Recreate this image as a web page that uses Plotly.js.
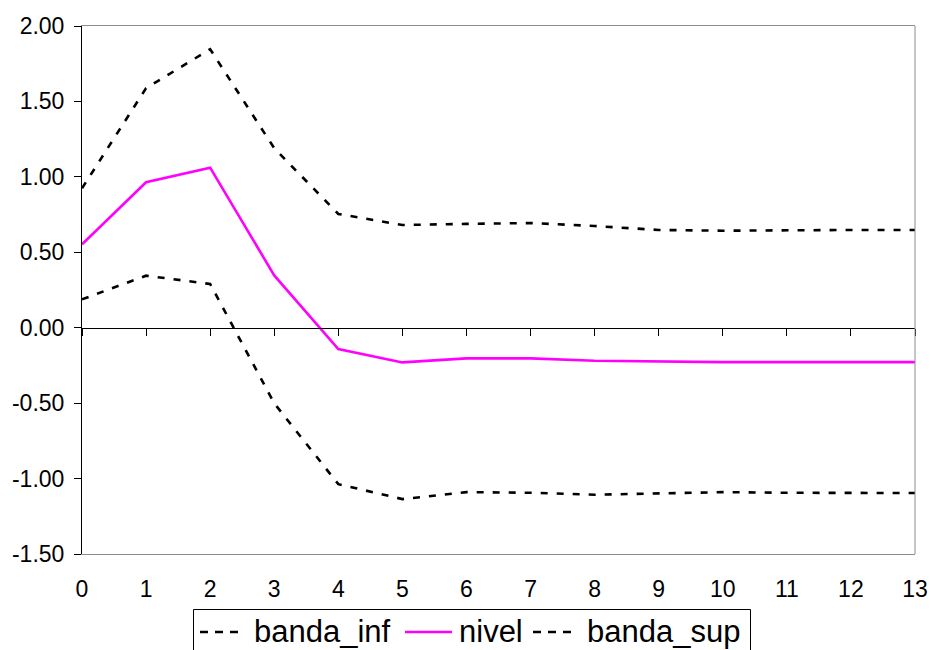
<!DOCTYPE html>
<html>
<head>
<meta charset="utf-8">
<script src="https://cdn.plot.ly/plotly-3.0.1.min.js"></script>
<style>
  html, body { margin: 0; padding: 0; background: #ffffff; }
  #chart { width: 931px; height: 650px; }
</style>
</head>
<body>
<div id="chart"></div>
<script>
// Periods after the shock
const periods = [0, 1, 2, 3, 4, 5, 6, 7, 8, 9, 10, 11, 12, 13];

// Response level and its confidence band
const nivel     = [0.553, 0.964, 1.061, 0.347, -0.141, -0.230, -0.203, -0.203, -0.219, -0.225, -0.228, -0.228, -0.228, -0.228];
const bandaInf  = [0.188, 0.345, 0.290, -0.501, -1.037, -1.136, -1.090, -1.094, -1.107, -1.098, -1.090, -1.094, -1.096, -1.096];
const bandaSup  = [0.924, 1.588, 1.846, 1.190, 0.754, 0.681, 0.688, 0.694, 0.674, 0.648, 0.643, 0.648, 0.648, 0.648];

const yTicks = [-1.5, -1.0, -0.5, 0.0, 0.5, 1.0, 1.5, 2.0];
const yTickLabels = ["-1.50", "-1.00", "-0.50", "0.00", "0.50", "1.00", "1.50", "2.00"];

const seriesNames = ["banda_inf", "nivel", "banda_sup"];

const FONT = "Liberation Sans, Arial, sans-serif";
const W = 931, H = 650;
const M = { l: 82, r: 16, t: 26, b: 96 };
const dashed = { color: "#000000", width: 2.6, dash: "7px,9px" };
const solidPink = { color: "#ff00ff", width: 2.6 };

const traces = [
  { x: periods, y: bandaInf, name: seriesNames[0], mode: "lines", line: dashed },
  { x: periods, y: nivel, name: seriesNames[1], mode: "lines", xaxis: "x2", line: solidPink },
  { x: periods, y: bandaSup, name: seriesNames[2], mode: "lines", line: dashed }
];

// pixel position on the page -> paper coordinates of the plot area
const plotW = W - M.l - M.r, plotH = H - M.t - M.b;
const px = v => (v - M.l) / plotW;
const py = v => (H - M.b - v) / plotH;

// legend strip below the plot: framed box, line samples and labels
const legendY = 632;
const legendItems = [
  { name: seriesNames[0], line: { color: "#000000", width: 2.6, dash: "8px,7px" }, x0: 200, x1: 240, tx: 253 },
  { name: seriesNames[1], line: solidPink, x0: 405, x1: 452, tx: 458 },
  { name: seriesNames[2], line: { color: "#000000", width: 2.6, dash: "8px,7px" }, x0: 533, x1: 572, tx: 586 }
];

const shapes = [
  { type: "line", xref: "paper", yref: "paper", x0: 1, x1: 1, y0: 0, y1: 1,
    line: { color: "#8c8c8c", width: 1 } },
  { type: "rect", xref: "paper", yref: "paper", x0: px(193.5), x1: px(750.5), y0: py(609.5), y1: py(670),
    line: { color: "#000000", width: 1 }, fillcolor: "rgba(0,0,0,0)" }
];
const annotations = [];
legendItems.forEach(it => {
  shapes.push({ type: "line", xref: "paper", yref: "paper",
    x0: px(it.x0), x1: px(it.x1), y0: py(legendY), y1: py(legendY), line: it.line });
  annotations.push({ xref: "paper", yref: "paper", x: px(it.tx), y: py(631),
    xanchor: "left", yanchor: "middle", showarrow: false, text: it.name,
    font: { family: FONT, size: 31, color: "#000000" }, borderpad: 0 });
});

const layout = {
  width: W,
  height: H,
  paper_bgcolor: "#ffffff",
  plot_bgcolor: "#ffffff",
  font: { family: FONT, color: "#000000", size: 23 },
  margin: { l: M.l, r: M.r, t: M.t, b: M.b, pad: 0, autoexpand: false },
  showlegend: false,
  xaxis: {
    range: [0, 13],
    tickvals: periods,
    ticktext: periods.map(String),
    ticks: "",
    showgrid: false,
    zeroline: false,
    showline: true,
    mirror: true,
    linecolor: "#8c8c8c",
    linewidth: 1,
    ticklabelstandoff: 14,
    fixedrange: true
  },
  // category axis drawn where the value axis crosses zero
  xaxis2: {
    overlaying: "x",
    anchor: "free",
    position: 1.5 / 3.5,
    range: [0, 13],
    tickvals: periods,
    showticklabels: false,
    ticks: "outside",
    ticklen: 7,
    tickcolor: "#000000",
    tickwidth: 1,
    showgrid: false,
    zeroline: false,
    showline: true,
    linecolor: "#000000",
    linewidth: 1,
    fixedrange: true
  },
  yaxis: {
    range: [-1.5, 2.0],
    tickvals: yTicks,
    ticktext: yTickLabels,
    ticks: "outside",
    ticklen: 7,
    tickcolor: "#000000",
    showgrid: false,
    zeroline: false,
    showline: true,
    linecolor: "#000000",
    linewidth: 1,
    ticklabelstandoff: 5,
    fixedrange: true
  },
  shapes: shapes,
  annotations: annotations
};

Plotly.newPlot("chart", traces, layout, { displayModeBar: false, staticPlot: true });
</script>
</body>
</html>
